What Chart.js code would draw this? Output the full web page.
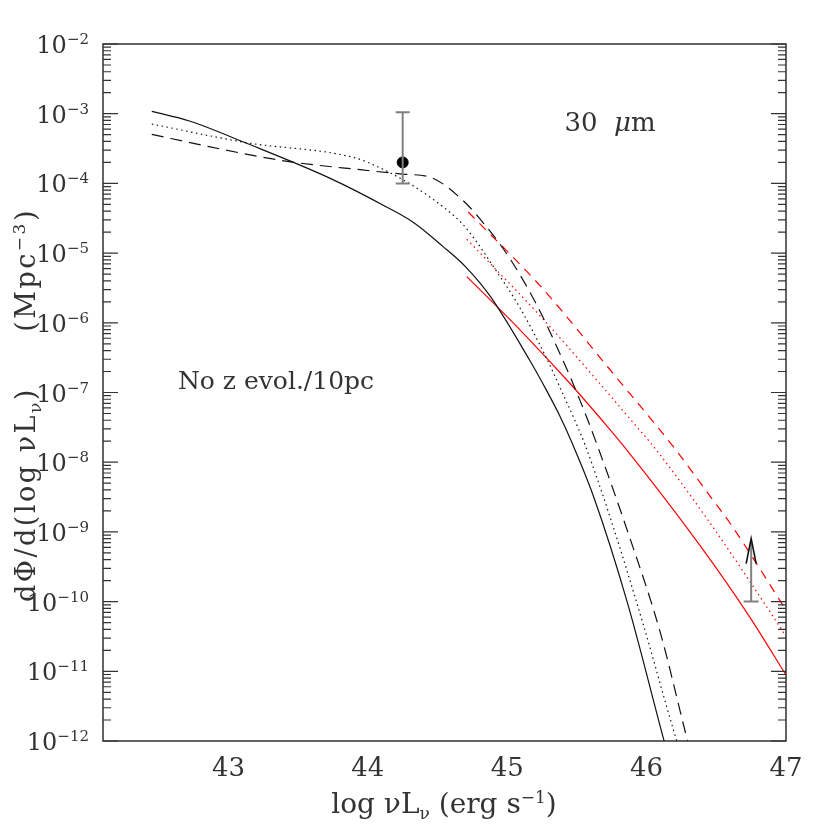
<!DOCTYPE html>
<html>
<head>
<meta charset="utf-8">
<script src="https://cdn.jsdelivr.net/npm/chart.js@4"></script>
<style>
  body { margin: 0; background: #fff; }
</style>
</head>
<body>
<canvas id="lf" width="830" height="830"></canvas>
<script>
// log nuL_nu (erg/s) and dPhi/d(log nuL_nu) (Mpc^-3)
const solidX = [42.45, 42.72, 43.13, 43.73, 44.13, 44.33, 44.54, 44.70, 44.88, 45.16, 45.28, 45.38, 45.46, 45.62, 45.86, 46.12, 46.17];
const solidY = [1.08e-3, 7.85e-4, 3.76e-4, 1.18e-4, 4.63e-5, 2.73e-5, 1.24e-5, 6.4e-6, 2.37e-6, 2.92e-7, 1.09e-7, 4.5e-8, 2.0e-8, 3.2e-9, 1.0e-10, 1.1e-12, 4.7e-13];

const dottedX = [42.45, 43.13, 43.92, 44.09, 44.19, 44.33, 44.44, 44.68, 44.78, 44.89, 45.09, 45.28, 45.40, 45.50, 45.56, 45.74, 45.98, 46.20, 46.25];
const dottedY = [7.11e-4, 3.84e-4, 2.29e-4, 1.66e-4, 1.32e-4, 9.1e-5, 6.5e-5, 2.6e-5, 1.45e-5, 6.9e-6, 1.66e-6, 3.16e-7, 9.5e-8, 3.4e-8, 1.74e-8, 1.58e-9, 4.4e-11, 1.29e-12, 6.3e-13];

const dashedX = [42.45, 42.86, 43.41, 43.96, 44.25, 44.45, 44.68, 44.85, 45.02, 45.20, 45.38, 45.52, 45.65, 45.86, 46.10, 46.28, 46.31];
const dashedY = [5.06e-4, 3.37e-4, 2.09e-4, 1.56e-4, 1.36e-4, 1.22e-4, 5.75e-5, 2.4e-5, 8.3e-6, 2.0e-6, 3.55e-7, 7.9e-8, 1.66e-8, 1.07e-9, 3.5e-11, 1.29e-12, 7.6e-13];

const redSolidX = [44.71, 45.10, 45.47, 45.68, 45.84, 46.38, 46.74, 47.0];
const redSolidY = [4.59e-6, 7.6e-7, 1.22e-7, 4.0e-8, 1.66e-8, 6.5e-10, 6.0e-11, 8.85e-12];

const redDottedX = [44.71, 45.24, 45.62, 45.89, 46.06, 46.43, 46.91, 47.0];
const redDottedY = [1.58e-5, 1.23e-6, 1.70e-7, 3.98e-8, 1.58e-8, 1.58e-9, 6.0e-11, 3.16e-11];

const redDashedX = [44.72, 45.25, 45.79, 46.06, 46.22, 46.46, 46.60, 47.0];
const redDashedY = [3.89e-5, 3.16e-6, 1.58e-7, 3.55e-8, 1.41e-8, 3.16e-9, 1.32e-9, 7.6e-11];

// observed point with error bar
const obsX = [44.25];
const obsY = [2.0e-4];
const obsLo = [1.0e-4];
const obsHi = [1.05e-3];

// lower limit (arrow)
const limX = [46.75];
const limY = [1.0e-10];
const limTip = [8.0e-10];

const xMajor = [43, 44, 45, 46, 47];
const yExp = [-12, -11, -10, -9, -8, -7, -6, -5, -4, -3, -2];

const FONT = "'DejaVu Serif', serif";
const INK = '#333';

function pts(xs, ys) {
  return xs.map((x, i) => ({ x: x, y: ys[i] }));
}

function curve(xs, ys, color, dash) {
  return {
    data: pts(xs, ys),
    borderColor: color,
    borderWidth: 1.2,
    borderDash: dash,
    pointRadius: 0,
    cubicInterpolationMode: 'monotone',
    fill: false
  };
}

// draw text made of pieces (sub/superscripts)
function rich(ctx, parts, x, y, align, spacing) {
  ctx.letterSpacing = (spacing || 0) + 'px';
  let w = 0;
  parts.forEach(p => {
    ctx.font = (p[3] || '') + ' ' + p[1] + 'px ' + FONT;
    w += ctx.measureText(p[0]).width;
  });
  let cx = align === 'center' ? x - w / 2 : (align === 'right' ? x - w : x);
  ctx.textAlign = 'left';
  ctx.textBaseline = 'alphabetic';
  parts.forEach(p => {
    ctx.font = (p[3] || '') + ' ' + p[1] + 'px ' + FONT;
    ctx.fillText(p[0], cx, y + (p[2] || 0));
    cx += ctx.measureText(p[0]).width;
  });
  ctx.letterSpacing = '0px';
}

const decor = {
  id: 'decor',
  afterDatasetsDraw(chart) {
    const ctx = chart.ctx;
    const xs = chart.scales.x, ys = chart.scales.y;
    ctx.save();

    // error bar on the observed point
    ctx.strokeStyle = '#808080';
    ctx.lineWidth = 2;
    obsX.forEach((v, i) => {
      const px = xs.getPixelForValue(v);
      const lo = ys.getPixelForValue(obsLo[i]);
      const hi = ys.getPixelForValue(obsHi[i]);
      ctx.beginPath();
      ctx.moveTo(px, lo); ctx.lineTo(px, hi);
      ctx.moveTo(px - 7, lo); ctx.lineTo(px + 7, lo);
      ctx.moveTo(px - 7, hi); ctx.lineTo(px + 7, hi);
      ctx.stroke();
    });

    // lower limit arrow
    limX.forEach((v, i) => {
      const px = xs.getPixelForValue(v);
      const b = ys.getPixelForValue(limY[i]);
      const t = ys.getPixelForValue(limTip[i]);
      ctx.strokeStyle = '#808080';
      ctx.lineWidth = 2;
      ctx.beginPath();
      ctx.moveTo(px, b); ctx.lineTo(px, t + 4);
      ctx.moveTo(px - 7.5, b); ctx.lineTo(px + 7.5, b);
      ctx.stroke();
      ctx.strokeStyle = '#111';
      ctx.lineWidth = 1.6;
      ctx.beginPath();
      ctx.moveTo(px - 5, t + 25); ctx.lineTo(px, t); ctx.lineTo(px + 5, t + 25);
      ctx.stroke();
    });

    ctx.restore();
  },
  afterDraw(chart) {
    const ctx = chart.ctx;
    const a = chart.chartArea;
    const xs = chart.scales.x, ys = chart.scales.y;
    ctx.save();

    // frame
    ctx.strokeStyle = '#222';
    ctx.lineWidth = 1.4;
    ctx.strokeRect(a.left, a.top, a.right - a.left, a.bottom - a.top);

    // inward ticks
    ctx.strokeStyle = '#333';
    ctx.lineWidth = 1.2;
    ctx.beginPath();
    for (let k = 211; k <= 469; k++) {
      if (k % 20 !== 0) continue;
      const v = k / 100;
      const px = xs.getPixelForValue(v);
      const len = (k % 100 === 0) ? 15 : 8;
      ctx.moveTo(px, a.bottom); ctx.lineTo(px, a.bottom - len);
      ctx.moveTo(px, a.top); ctx.lineTo(px, a.top + len);
    }
    for (let e = -12; e <= -2; e++) {
      for (let m = 1; m <= 9; m++) {
        const v = m * Math.pow(10, e);
        if (v > 1.0001e-2) break;
        const py = ys.getPixelForValue(v);
        const len = m === 1 ? 15 : 8;
        ctx.moveTo(a.left, py); ctx.lineTo(a.left + len, py);
        ctx.moveTo(a.right, py); ctx.lineTo(a.right - len, py);
      }
    }
    ctx.stroke();

    ctx.fillStyle = INK;

    // x tick labels
    xMajor.forEach(v => {
      rich(ctx, [[String(v), 26]], xs.getPixelForValue(v), 776, 'center');
    });

    // y tick labels
    yExp.forEach(e => {
      const py = ys.getPixelForValue(Math.pow(10, e));
      rich(ctx, [['10', 24, 9], ['\u2212' + Math.abs(e), 15, 0]], 89, py, 'right');
    });

    // axis titles
    rich(ctx, [['log ', 28], ['\u03bd', 28], ['L', 28], ['\u03bd', 17, 6], [' (erg s', 28], ['\u22121', 17, -10], [')', 28]], 444, 813, 'center');

    ctx.save();
    ctx.translate(35, 405);
    ctx.rotate(-Math.PI / 2);
    rich(ctx, [['d\u03a6/d(log ', 27], ['\u03bd', 27], ['L', 27], ['\u03bd', 17, 6], [')     (Mpc', 27], ['\u22123', 17, -10], [')', 27]], 0, 0, 'center', 2.5);
    ctx.restore();

    // annotations
    rich(ctx, [['30  ', 26], ['\u03bc', 26, 0, 'italic'], ['m', 26]], 610, 131, 'center');
    rich(ctx, [['No z evol./10pc', 25]], 276, 389, 'center');

    ctx.restore();
  }
};

new Chart(document.getElementById('lf'), {
  type: 'line',
  data: {
    datasets: [
      curve(solidX, solidY, '#111', []),
      curve(dottedX, dottedY, '#111', [1.5, 3.5]),
      curve(dashedX, dashedY, '#111', [12, 7]),
      curve(redSolidX, redSolidY, '#ff0000', []),
      curve(redDottedX, redDottedY, '#ff0000', [1.5, 3.5]),
      curve(redDashedX, redDashedY, '#ff0000', [9, 7]),
      {
        data: pts(obsX, obsY),
        showLine: false,
        pointRadius: 5.5,
        pointBackgroundColor: '#000',
        pointBorderColor: '#000'
      }
    ]
  },
  options: {
    responsive: false,
    animation: false,
    layout: {
      padding: { left: 103, right: 44, top: 44, bottom: 89 }
    },
    scales: {
      x: { type: 'linear', min: 42.1, max: 47, display: false },
      y: { type: 'logarithmic', min: 1e-12, max: 1e-2, display: false }
    },
    plugins: {
      legend: { display: false },
      tooltip: { enabled: false }
    }
  },
  plugins: [decor]
});
</script>
</body>
</html>
